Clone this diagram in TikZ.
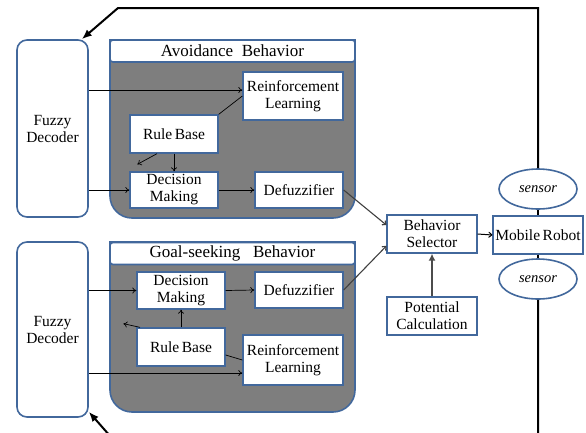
\documentclass[tikz,border=0pt]{standalone}
\usepackage{fontspec}
\setmainfont{Liberation Serif}
\usetikzlibrary{arrows.meta,shapes.geometric}
\definecolor{frameblue}{RGB}{66,104,156}
\definecolor{panelgray}{RGB}{126,126,126}

\begin{document}
\begin{tikzpicture}[x=1pt,y=-1pt,>={To[length=4pt,width=6pt]},
  blk/.style={draw=frameblue,line width=1.3pt,fill=white,inner sep=0pt,align=center,
    font=\fontsize{15.5}{17}\selectfont},
  dec/.style={blk,rounded corners=10pt,line width=1.6pt,minimum width=71pt},
  ttl/.style={blk,rounded corners=3pt,line width=1.6pt,minimum width=245pt,minimum height=22pt,
    font=\fontsize{17}{19}\selectfont},
  sens/.style={ellipse,draw=frameblue,line width=1.6pt,fill=white,inner sep=0pt,
    minimum width=78pt,minimum height=40pt,font=\itshape\fontsize{14.5}{16}\selectfont},
  flow/.style={->,line width=0.7pt},
  feed/.style={-{Latex[length=10pt,width=8pt]},line width=2pt}]
  \useasboundingbox (0,0) rectangle (586,432);
  \clip (0,0) rectangle (586,432);
  % the two behavior panels
  \draw[draw=frameblue,fill=panelgray,line width=1.6pt] (110,40) -- (355,40)
    [rounded corners=22pt]-- (355,218) -- (110,218) [sharp corners]-- cycle;
  \draw[draw=frameblue,fill=panelgray,line width=1.6pt] (110,242) -- (355,242)
    [rounded corners=22pt]-- (355,412) -- (110,412) [sharp corners]-- cycle;
  \node[ttl] (avttl) at (232.5,51) {Avoidance\ \ Behavior};
  \node[ttl] (gsttl) at (232.5,253.5) {Goal-seeking\ \ \ Behavior};
  % decoders
  \node[dec,minimum height=177pt] (fd1) at (52.5,128.5) {Fuzzy\\Decoder};
  \node[dec,minimum height=175pt] (fd2) at (52.5,329.5) {Fuzzy\\Decoder};
  % avoidance behavior
  \node[blk,minimum width=100pt,minimum height=48pt] (rl1) at (293,96) {Reinforcement\\Learning};
  \node[blk,minimum width=88pt,minimum height=38pt] (rb1) at (174,134) {Rule\,Base};
  \node[blk,minimum width=88pt,minimum height=36pt] (dm1) at (174,190) {Decision\\Making};
  \node[blk,minimum width=88pt,minimum height=36pt] (df1) at (299,190) {Defuzzifier};
  % goal-seeking behavior
  \node[blk,minimum width=88pt,minimum height=37pt] (dm2) at (181,290.5) {Decision\\Making};
  \node[blk,minimum width=88pt,minimum height=36pt] (df2) at (299,290) {Defuzzifier};
  \node[blk,minimum width=88pt,minimum height=38pt] (rb2) at (181,347) {Rule\,Base};
  \node[blk,minimum width=100pt,minimum height=50pt] (rl2) at (293,360) {Reinforcement\\Learning};
  % selector, robot, sensors
  \node[blk,minimum width=90pt,minimum height=38pt] (bs) at (432,234) {Behavior\\Selector};
  \node[blk,minimum width=90pt,minimum height=38pt] (pc) at (432,316) {Potential\\Calculation};
  \node[blk,minimum width=90pt,minimum height=38pt] (mr) at (538,235) {Mobile\,Robot};
  \node[sens] (s1) at (538,189) {sensor};
  \node[sens] (s2) at (538,279) {sensor};
  \coordinate (tl) at (118,8);
  \coordinate (bl) at (118,445);

  \draw[flow] ([yshift=6pt]rl1.west -| fd1.east) -- ([yshift=6pt]rl1.west);
  \draw[flow] (fd1.east |- dm1.west) -- (dm1.west);
  \draw[line width=0.7pt] (rb1.north east) -- (rl1.west);
  \draw[flow] ([xshift=-17pt]rb1.south) -- ([xshift=8pt,yshift=7pt]dm1.north west);
  \draw[flow] (rb1.south) -- (dm1.north);
  \draw[flow] (dm1.east) -- (df1.west);
  \draw[flow] (fd2.east |- dm2.west) -- (dm2.west);
  \draw[flow] ([yshift=-13pt]rl2.west -| fd2.east) -- ([yshift=-13pt]rl2.west);
  \draw[flow] (dm2.east) -- (df2.west);
  \draw[flow] (rb2.north) -- (dm2.south);
  \draw[flow] ([xshift=-41pt]rb2.north) -- ([xshift=-13pt,yshift=-14pt]dm2.south west);
  \draw[line width=0.7pt] ([yshift=-8pt]rb2.east) -- (rl2.west);
  \draw[flow,line width=1.1pt,black!75] (df1.east) -- ([yshift=9pt]bs.west);
  \draw[flow,line width=1.1pt,black!75] (df2.east) -- ([yshift=-12pt]bs.west);
  \draw[-{Latex[length=7pt,width=7pt]},line width=2.5pt,black!70] (pc.north) -- (bs.south);
  \draw[flow,line width=1pt] (bs.east) -- (mr.west);
  \draw[line width=2pt] (s1.south) -- (mr.north);
  \draw[line width=2pt] (mr.south) -- (s2.north);
  % feedback from the sensors to the decoders
  \draw[feed] (s1.north) -- (s1.north |- tl) -- (tl) -- ([xshift=-7pt]fd1.north east);
  \draw[feed] (s2.south) -- (s2.south |- bl) -- (bl) -- ([yshift=6pt]fd2.south east);
\end{tikzpicture}
\end{document}
